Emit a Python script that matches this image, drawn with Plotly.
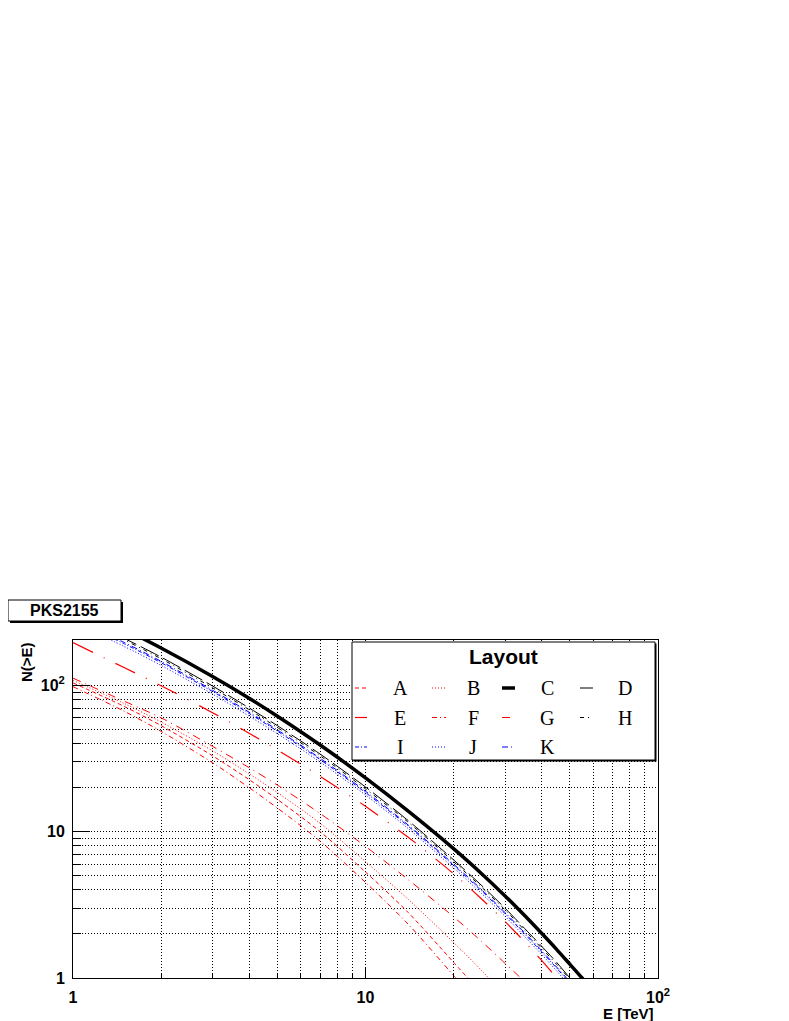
import plotly.graph_objects as go

# ---------------- data ----------------
E_TeV = [1, 1.5, 2, 3, 4, 5, 7, 10, 14, 20, 25, 30, 35, 40, 45, 50, 55, 60]

N_A = [104, 71.6, 53.1, 33.0, 22.7, 16.6, 10.0, 5.3, 2.8, 1.28, 0.78]
N_B = [108, 75, 56.2, 35.7, 24.9, 18.5, 11.4, 6.25, 3.45, 1.75, 1.12, 0.75]
N_C = [351, 241, 180, 115, 81.7, 61.5, 39.1, 23.3, 13.8, 7.65, 5.14, 3.64, 2.67, 2.02, 1.57, 1.24, 1.0, 0.81]
N_D = [305, 209, 156, 99, 70.1, 53, 33.9, 20.2, 11.9, 6.42, 4.27, 3.0, 2.18, 1.65, 1.28, 1.0, 0.81, 0.65]
N_E = [196, 131.8, 99.5, 65, 47.1, 36.2, 23.9, 14.9, 9.15, 5.16, 3.45, 2.43, 1.77, 1.32, 1.0, 0.77, 0.6, 0.47]
N_F = [98, 66.4, 48.5, 29.6, 20.0, 14.5, 8.6, 4.5, 2.33, 1.04, 0.62]
N_G = [112, 77.8, 60, 38.3, 27.4, 20.8, 13.3, 7.93, 4.7, 2.62, 1.77, 1.26, 0.94, 0.7]
N_H = [297, 204, 152, 96.2, 68.2, 51.5, 33, 19.6, 11.6, 6.24, 4.16, 2.92, 2.12, 1.6, 1.24, 0.98, 0.78, 0.64]
N_I = [280, 192, 143, 90.8, 64.3, 48.6, 31.1, 18.5, 10.9, 5.89, 3.92, 2.75, 2.0, 1.51, 1.17, 0.92, 0.74, 0.6]
N_J = [269, 184, 137, 87.2, 61.7, 46.7, 29.9, 17.8, 10.5, 5.65, 3.76, 2.64, 1.92, 1.45, 1.12, 0.88, 0.71, 0.58]
N_K = [286, 196, 146, 92.6, 65.6, 49.6, 31.7, 18.9, 11.1, 6.0, 4.0, 2.8, 2.04, 1.54, 1.19, 0.94, 0.75, 0.61]

x_tick_vals = [1, 10, 100]
x_tick_text = ["1", "10", "10<sup>2</sup>"]
y_tick_vals = [1, 10, 100]
y_tick_text = ["1", "10", "10<sup>2</sup>"]
minor_vals = [2, 3, 4, 5, 6, 7, 8, 9, 20, 30, 40, 50, 60, 70, 80, 90]

RED, BLUE, BLACK = "#ff0000", "#0000ff", "#000000"
series = [
    ("A", N_A, dict(color=RED, width=1, dash="4px,3px")),
    ("B", N_B, dict(color=RED, width=1, dash="1px,2px")),
    ("C", N_C, dict(color=BLACK, width=3.5)),
    ("D", N_D, dict(color=BLACK, width=1, dash="20px,5px")),
    ("E", N_E, dict(color=RED, width=1.2, dash="22px,12px,1px,12px")),
    ("F", N_F, dict(color=RED, width=1, dash="5px,3px,1px,3px")),
    ("G", N_G, dict(color=RED, width=1, dash="8px,5px,1px,5px")),
    ("H", N_H, dict(color=BLACK, width=1, dash="4px,4px,1px,4px")),
    ("I", N_I, dict(color=BLUE, width=1, dash="4px,2px,1px,2px")),
    ("J", N_J, dict(color=BLUE, width=1, dash="1px,2px")),
    ("K", N_K, dict(color=BLUE, width=1, dash="6px,3px,1px,3px")),
]

fig = go.Figure()
for name, vals, line in series:
    fig.add_trace(go.Scatter(x=E_TeV[:len(vals)], y=vals, mode="lines",
                             line=dict(shape="spline", smoothing=0.8, **line),
                             name=name, showlegend=False))

# ---------------- layout ----------------
# the page body adds an 8px offset; all positions below are page pixels
OFF = 8
W, H = 789 - OFF, 1021 - OFF
L, R, T, B = 73, 658, 640, 978  # plot area on the page


def px(x):
    return (x - L) / (R - L)


def py(y):
    return (B - y) / (B - T)


SANS = "Liberation Sans"
SERIF = "Liberation Serif"
GRID = dict(showgrid=True, gridcolor="black", griddash="1px,2px", gridwidth=1)

common = dict(type="log", ticks="inside", tickcolor="black", tickwidth=1,
              showline=True, mirror=True, linecolor="black", linewidth=1,
              zeroline=False,
              tickfont=dict(family=SANS, size=16, color="black", weight="bold"),
              **GRID)

fig.update_layout(
    width=W, height=H,
    margin=dict(l=L - OFF, r=W - (R - OFF), t=T - OFF, b=H - (B - OFF), pad=0),
    paper_bgcolor="white", plot_bgcolor="white",
    showlegend=False,
    xaxis=dict(range=[0, 2], tickvals=x_tick_vals, ticktext=x_tick_text,
               ticklen=10, ticklabelstandoff=5,
               minor=dict(tickvals=minor_vals, ticks="inside", ticklen=5,
                          tickcolor="black", **GRID),
               **common),
    yaxis=dict(range=[0, 2.31], tickvals=y_tick_vals, ticktext=y_tick_text,
               ticklen=17, ticklabelstandoff=4,
               minor=dict(tickvals=minor_vals, ticks="inside", ticklen=8,
                          tickcolor="black", **GRID),
               **common),
)

shapes = []
annotations = []

# title box "PKS2155" with shadow
shapes.append(dict(type="rect", xref="paper", yref="paper",
                   x0=px(10), x1=px(123), y0=py(623), y1=py(602),
                   line=dict(width=0), fillcolor="black"))
shapes.append(dict(type="rect", xref="paper", yref="paper",
                   x0=px(8), x1=px(121), y0=py(621), y1=py(600),
                   line=dict(color="black", width=1), fillcolor="white"))
annotations.append(dict(xref="paper", yref="paper", x=px(64.5), y=py(610.5),
                        text="PKS2155", showarrow=False,
                        xanchor="center", yanchor="middle",
                        font=dict(family=SANS, size=16, color="black", weight="bold")))

# legend box
shapes.append(dict(type="rect", xref="paper", yref="paper",
                   x0=px(353.5), x1=px(656.5), y0=py(761.5), y1=py(643.5),
                   line=dict(width=0), fillcolor="black", layer="above"))
shapes.append(dict(type="rect", xref="paper", yref="paper",
                   x0=px(352), x1=px(655), y0=py(760), y1=py(642),
                   line=dict(color="black", width=1), fillcolor="white", layer="above"))
annotations.append(dict(xref="paper", yref="paper", x=px(503), y=py(656),
                        text="Layout", showarrow=False,
                        xanchor="center", yanchor="middle",
                        font=dict(family=SANS, size=21, color="black", weight="bold")))

row_y = [688, 717.5, 747]
col_sample = [(355, 367), (432, 446), (502, 515), (580, 593)]
col_label = [400, 473, 547, 625]
for idx, (name, vals, line) in enumerate(series):
    r, c = divmod(idx, 4)
    x0, x1 = col_sample[c]
    shapes.append(dict(type="line", xref="paper", yref="paper",
                       x0=px(x0), x1=px(x1), y0=py(row_y[r]), y1=py(row_y[r]),
                       line=line, layer="above"))
    annotations.append(dict(xref="paper", yref="paper", x=px(col_label[c]),
                            y=py(row_y[r]), text=name, showarrow=False,
                            xanchor="center", yanchor="middle",
                            font=dict(family=SERIF, size=20, color="black")))

# axis titles
annotations.append(dict(xref="paper", yref="paper", x=px(26), y=py(640),
                        text="N(>E)", showarrow=False, textangle=-90,
                        xanchor="center", yanchor="top",
                        font=dict(family=SANS, size=15, color="black", weight="bold")))
annotations.append(dict(xref="paper", yref="paper", x=px(656), y=py(1013.5),
                        text="E [TeV]", showarrow=False,
                        xanchor="right", yanchor="middle",
                        font=dict(family=SANS, size=15, color="black", weight="bold")))

fig.update_layout(shapes=shapes, annotations=annotations)
fig.write_html("out.html")
